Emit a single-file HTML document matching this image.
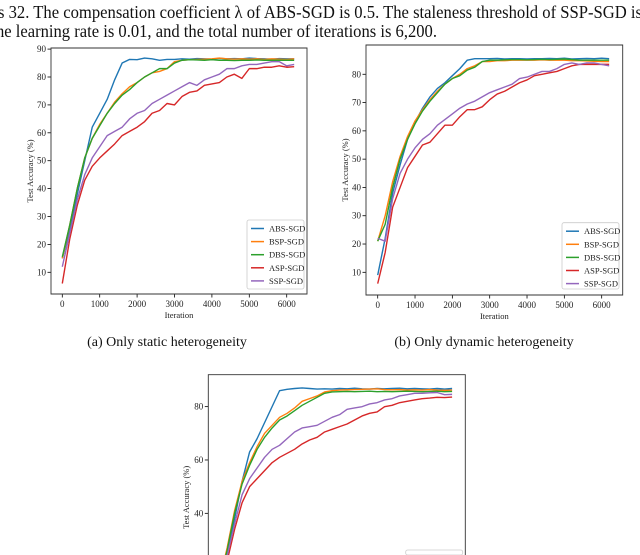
<!DOCTYPE html>
<html><head><meta charset="utf-8">
<style>
html,body{margin:0;padding:0;background:#fff;width:640px;height:555px;overflow:hidden}
svg{display:block;font-family:"Liberation Serif",serif}
</style></head>
<body>
<svg id="fig" width="640" height="555" viewBox="0 0 640 555" xmlns="http://www.w3.org/2000/svg">
<text x="-2" y="18" font-size="17.5" fill="#111" textLength="644" lengthAdjust="spacingAndGlyphs">s 32. The compensation coefficient λ of ABS-SGD is 0.5. The staleness threshold of SSP-SGD is</text>
<text x="-4" y="37" font-size="17.5" fill="#111" textLength="441" lengthAdjust="spacingAndGlyphs">he learning rate is 0.01, and the total number of iterations is 6,200.</text>
<text x="167" y="346" font-size="14" text-anchor="middle" fill="#111">(a)  Only static heterogeneity</text>
<text x="484" y="346" font-size="14" text-anchor="middle" fill="#111">(b)  Only dynamic heterogeneity</text>
</svg>
<script>
const iterations=[0,200,400,600,800,1000,1200,1400,1600,1800,2000,2200,2400,2600,2800,3000,3200,3400,3600,3800,4000,4200,4400,4600,4800,5000,5200,5400,5600,5800,6000,6200];
const seriesNames=["ABS-SGD","BSP-SGD","DBS-SGD","ASP-SGD","SSP-SGD"];
const colors=["#1f77b4","#ff7f0e","#2ca02c","#d62728","#9467bd"];
const xTicks=[0,1000,2000,3000,4000,5000,6000];
const yTicksA=[10,20,30,40,50,60,70,80,90];
const yTicksB=[10,20,30,40,50,60,70,80];
const yTicksC=[20,40,60,80];

const absA=[15,25,38,50,62,67,72,79,85,86.3,86.2,86.8,86.5,86,86.3,86.3,86.5,86.4,86.6,86.5,86.4,86.7,86.5,86.6,86.5,86.8,86.6,86.5,86.4,86.6,86.5,86.5];
const bspA=[15,27,40,51,58,63,67,71,74,76.5,78,80,81.5,82,83,85.5,86,86.2,86.3,86.4,86.5,86.8,86.5,86.4,86.5,86.4,86.5,86.3,86.5,86.4,86.3,86.5];
const dbsA=[15.5,27,40,51,58,62.5,67,70.5,73.5,75.5,78,80,81.5,83,83,85,86,86.2,86.1,86,86.2,86,86,85.9,86,86,86.1,86,86,86,86,86];
const aspA=[6,22,34,43,48,51,53.5,56,59,60.5,62,64,67,68,70.5,70,73,74.5,75,77,77.5,78,80,81,79.5,83,83,83.5,83.5,84,83.5,83.7];
const sspA=[12,24,36,45,51,55,59,60.5,62,65,67,68,70.5,72,73.5,75,76.5,78,77,79,80,81,83,83,84,84.5,84.5,85,85.5,85.5,84,84.5];

const absB=[9,22,38,48,57,63,68,72,75,77,79.5,82,85,85.5,85.5,85.5,85.6,85.4,85.5,85.5,85.4,85.5,85.5,85.6,85.5,85.7,85.4,85.5,85.6,85.5,85.7,85.5];
const bspB=[21,30,42,51,58,63.5,67.5,71,74,76.5,78.5,80,82,83,84.5,84.5,84.8,84.8,85,85,85,85,85.1,85,85,85,84.8,84.8,84.7,84.6,84.5,84.5];
const dbsB=[21,27,40,50,57,62.5,67,70.5,73.5,76.5,78.5,79.5,81.5,82.5,84.5,85,85,85.1,85.2,85.2,85.1,85.2,85.3,85.2,85.3,85.4,85.2,85,85,85,85,85];
const aspB=[6,17,33,40,47,51,55,56,59,62,62,65,67.5,67.5,68.5,71,73,74,75.5,77,78,79.5,80,80.5,81,82,83,83.5,83.5,83.5,83.5,83.5];
const sspB=[22,21,36,45,50,54,57,59,62,64,66,68,69.5,70.5,72,73.5,74.5,75.5,76.5,78.5,79,80,81,81,82,83.5,84,83.5,84,84,83.5,83];

const absC=[15,25,38,52,63,68,74,80,86,86.5,86.8,87,86.8,86.6,86.7,86.6,86.8,86.7,86.9,86.7,86.6,86.8,86.7,86.8,86.9,86.7,86.8,86.7,86.6,86.8,86.6,86.8];
const bspC=[15,27,41,52,59,65,70,73,76,77.5,79.5,82,83,84,85.5,86,86.2,86.3,86.4,86.5,86.6,86.7,86.4,86.3,86.4,86.2,86.3,86.2,86.4,86.2,86.1,86.2];
const dbsC=[15,26,40,51,58,64,68.5,72,75,76.5,78.5,80.5,82,83.5,85,85.5,85.6,85.7,85.6,85.7,85.8,85.6,85.7,85.6,85.7,85.8,85.7,85.6,85.7,85.8,85.6,85.7];
const aspC=[6,22,34,44,50,53,56,59,61,62.5,64,66,67.5,68.5,70.5,71.5,72.5,73.5,75,76.5,77.5,78,80,80.5,81.5,82,82.5,83,83.2,83.5,83.4,83.6];
const sspC=[12,24,36,47,53,57,61,64,65.5,68,70.5,72,72.5,73,74.5,76,77,79,79.5,80,81,81.5,82.5,83,84,84.5,85,85,85.2,85.3,84.5,84.6];

const NS="http://www.w3.org/2000/svg";
const fig=document.getElementById('fig');
function mk(tag,attrs,parent){const e=document.createElementNS(NS,tag);for(const k in attrs)e.setAttribute(k,attrs[k]);(parent||fig).appendChild(e);return e;}

function drawChart(id,box,x0,xPer1000,yZero,yPer10,yTicks,data,legend,ylabX){
  const g=mk('g',{});
  
  
  const xs=v=>x0+v/1000*xPer1000;
  const ys=v=>yZero-v/10*yPer10;
  const visB=Math.min(box.b,555);
  const clipId='clip'+id;
  const cp=mk('clipPath',{id:clipId},g);
  mk('rect',{x:box.l,y:box.t,width:box.r-box.l,height:visB-box.t},cp);
  const full=box.b<555;
  if(full){
    xTicks.forEach(t=>{
      const x=xs(t);
      const tk=mk('line',{x1:x,x2:x,y1:box.b,y2:box.b+3.5,stroke:'#000','stroke-width':0.8},g);
      
      
      const tl=mk('text',{x:x,y:box.b+13,'font-size':9,'text-anchor':'middle',fill:'#222'},g);
      
      
      tl.textContent=t;
    });
    const xl=mk('text',{x:(box.l+box.r)/2,y:box.b+24,'font-size':8.5,'text-anchor':'middle',fill:'#222'},g);
    
    
    xl.textContent='Iteration';
  }
  yTicks.forEach(t=>{
    const y=ys(t);
    if(y>552) return;
    const tk=mk('line',{x1:box.l-3.5,x2:box.l,y1:y,y2:y,stroke:'#000','stroke-width':0.8},g);
    
    
    const tl=mk('text',{x:box.l-5,y:y+3,'font-size':9,'text-anchor':'end',fill:'#222'},g);
    
    
    tl.textContent=t;
  });
  const yc=full?(box.t+box.b)/2:(box.t+box.b)/2;
  const yl=mk('text',{x:ylabX,y:yc,'font-size':8.5,'text-anchor':'middle',fill:'#222',transform:`rotate(-90 ${ylabX} ${yc})`},g);
  
  
  yl.textContent='Test Accuracy (%)';
  const sg=mk('g',{'clip-path':`url(#${clipId})`},g);
  data.forEach((arr,i)=>{
    const d=arr.map((v,j)=>(j?'L':'M')+xs(iterations[j]).toFixed(2)+','+ys(v).toFixed(2)).join('');
    const p=mk('path',{d:d,fill:'none',stroke:colors[i],'stroke-width':1.4,'stroke-linejoin':'round'},sg);
    
    
  });
  const fd=full?`M${box.l},${box.t}H${box.r}V${box.b}H${box.l}Z`:`M${box.l},555V${box.t}H${box.r}V555`;
  const fr=mk('path',{d:fd,fill:'none',stroke:'#333','stroke-width':0.9},g);
  
  
  const lg=mk('g',{},g);
  
  
  const lh=Math.min(legend.h,555-legend.t);
  mk('rect',{x:legend.l,y:legend.t,width:legend.w,height:lh,rx:2,fill:'#fff',stroke:'#ccc','stroke-width':0.8},lg);
  seriesNames.forEach((n,i)=>{
    const y=legend.t+8.5+i*13.1;
    if(y>552) return;
    const le=mk('g',{},lg);
    
    
    mk('line',{x1:legend.l+4,x2:legend.l+17,y1:y,y2:y,stroke:colors[i],'stroke-width':1.5},le);
    const t=mk('text',{x:legend.l+22,y:y+3,'font-size':8.5,fill:'#222'},le);
    t.textContent=n;
  });
}
drawChart('a',{l:51,r:307,t:48,b:294},62.3,37.4,300.2,27.9,yTicksA,[absA,bspA,dbsA,aspA,sspA],{l:247,t:220,w:57,h:69},33);
drawChart('b',{l:366,r:622.7,t:45,b:295},377.7,37.33,300.6,28.29,yTicksB,[absB,bspB,dbsB,aspB,sspB],{l:562,t:222.7,w:57,h:66.3},348);
drawChart('c',{l:208.3,r:465.3,t:374.7,b:620},219.6,37.5,620,26.67,yTicksC,[absC,bspC,dbsC,aspC,sspC],{l:405.7,t:550,w:57,h:69},189);
</script>
</body></html>
